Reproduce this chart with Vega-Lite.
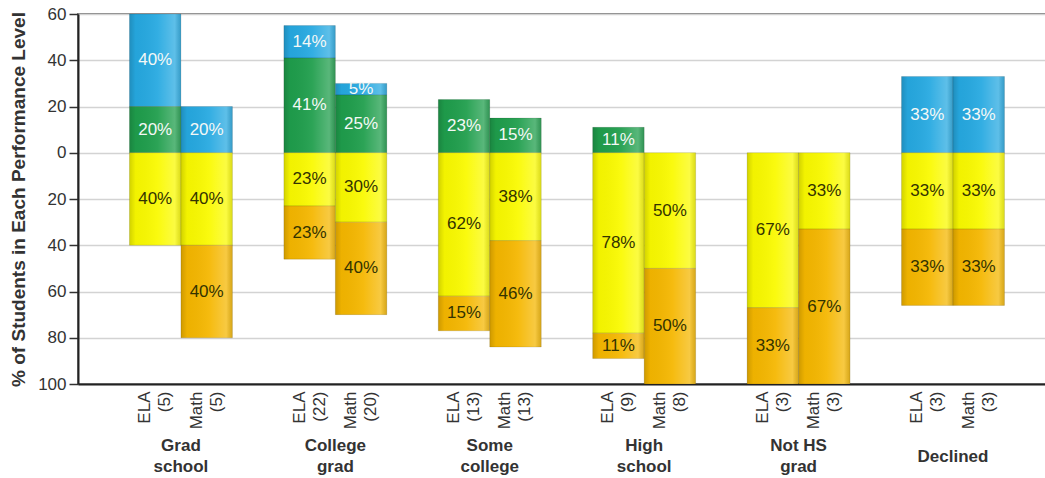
{
  "$schema": "https://vega.github.io/schema/vega-lite/v6.json",
  "autosize": {"type": "none"},
  "padding": {"left": 78, "top": 14, "right": 0, "bottom": 94},
  "width": 968,
  "height": 370,
  "config": {
    "font": "Liberation Sans",
    "view": {"stroke": "#808080", "strokeWidth": 2}
  },
  "data": {
    "values": [
      {"group": "Grad school", "subject": "ELA", "n": 5, "level": "Advanced", "pct": 40},
      {"group": "Grad school", "subject": "ELA", "n": 5, "level": "Proficient", "pct": 20},
      {"group": "Grad school", "subject": "ELA", "n": 5, "level": "Basic", "pct": 40},
      {"group": "Grad school", "subject": "Math", "n": 5, "level": "Advanced", "pct": 20},
      {"group": "Grad school", "subject": "Math", "n": 5, "level": "Basic", "pct": 40},
      {"group": "Grad school", "subject": "Math", "n": 5, "level": "Below Basic", "pct": 40},
      {"group": "College grad", "subject": "ELA", "n": 22, "level": "Advanced", "pct": 14},
      {"group": "College grad", "subject": "ELA", "n": 22, "level": "Proficient", "pct": 41},
      {"group": "College grad", "subject": "ELA", "n": 22, "level": "Basic", "pct": 23},
      {"group": "College grad", "subject": "ELA", "n": 22, "level": "Below Basic", "pct": 23},
      {"group": "College grad", "subject": "Math", "n": 20, "level": "Advanced", "pct": 5},
      {"group": "College grad", "subject": "Math", "n": 20, "level": "Proficient", "pct": 25},
      {"group": "College grad", "subject": "Math", "n": 20, "level": "Basic", "pct": 30},
      {"group": "College grad", "subject": "Math", "n": 20, "level": "Below Basic", "pct": 40},
      {"group": "Some college", "subject": "ELA", "n": 13, "level": "Proficient", "pct": 23},
      {"group": "Some college", "subject": "ELA", "n": 13, "level": "Basic", "pct": 62},
      {"group": "Some college", "subject": "ELA", "n": 13, "level": "Below Basic", "pct": 15},
      {"group": "Some college", "subject": "Math", "n": 13, "level": "Proficient", "pct": 15},
      {"group": "Some college", "subject": "Math", "n": 13, "level": "Basic", "pct": 38},
      {"group": "Some college", "subject": "Math", "n": 13, "level": "Below Basic", "pct": 46},
      {"group": "High school", "subject": "ELA", "n": 9, "level": "Proficient", "pct": 11},
      {"group": "High school", "subject": "ELA", "n": 9, "level": "Basic", "pct": 78},
      {"group": "High school", "subject": "ELA", "n": 9, "level": "Below Basic", "pct": 11},
      {"group": "High school", "subject": "Math", "n": 8, "level": "Basic", "pct": 50},
      {"group": "High school", "subject": "Math", "n": 8, "level": "Below Basic", "pct": 50},
      {"group": "Not HS grad", "subject": "ELA", "n": 3, "level": "Basic", "pct": 67},
      {"group": "Not HS grad", "subject": "ELA", "n": 3, "level": "Below Basic", "pct": 33},
      {"group": "Not HS grad", "subject": "Math", "n": 3, "level": "Basic", "pct": 33},
      {"group": "Not HS grad", "subject": "Math", "n": 3, "level": "Below Basic", "pct": 67},
      {"group": "Declined", "subject": "ELA", "n": 3, "level": "Advanced", "pct": 33},
      {"group": "Declined", "subject": "ELA", "n": 3, "level": "Basic", "pct": 33},
      {"group": "Declined", "subject": "ELA", "n": 3, "level": "Below Basic", "pct": 33},
      {"group": "Declined", "subject": "Math", "n": 3, "level": "Advanced", "pct": 33},
      {"group": "Declined", "subject": "Math", "n": 3, "level": "Basic", "pct": 33},
      {"group": "Declined", "subject": "Math", "n": 3, "level": "Below Basic", "pct": 33}
    ]
  },
  "layer": [
    {
      "transform": [
        {"calculate": "datum.level === 'Basic' || datum.level === 'Below Basic' ? -datum.pct : datum.pct", "as": "signed"},
        {"calculate": "indexof(['Proficient','Advanced','Basic','Below Basic'], datum.level)", "as": "order"},
        {"calculate": "datum.group + '|' + datum.subject + '|(' + datum.n + ')'", "as": "slot"},
        {"calculate": "datum.pct + '%'", "as": "label"},
        {"stack": "signed", "groupby": ["slot"], "sort": [{"field": "order", "order": "ascending"}], "as": ["y0", "y1"]},
        {"calculate": "(datum.y0 + datum.y1) / 2", "as": "mid"}
      ],
      "encoding": {
        "x": {
          "field": "slot",
          "type": "nominal",
          "title": null,
          "scale": {
            "type": "band",
            "domain": [
              "gap1", "Grad school|ELA|(5)", "Grad school|Math|(5)",
              "gap2", "College grad|ELA|(22)", "College grad|Math|(20)",
              "gap3", "Some college|ELA|(13)", "Some college|Math|(13)",
              "gap4", "High school|ELA|(9)", "High school|Math|(8)",
              "gap5", "Not HS grad|ELA|(3)", "Not HS grad|Math|(3)",
              "gap6", "Declined|ELA|(3)", "Declined|Math|(3)"
            ],
            "paddingInner": 0,
            "paddingOuter": 0.4035,
            "align": 0,
            "round": false
          },
          "axis": {
            "orient": "bottom",
            "labelExpr": "indexof(datum.value, '|') < 0 ? '' : [split(datum.value, '|')[1], split(datum.value, '|')[2]]",
            "labelAngle": -90,
            "labelAlign": "right",
            "labelBaseline": "middle",
            "labelFontSize": 17,
            "labelLineHeight": 20,
            "labelColor": "#333333",
            "labelPadding": 7,
            "labelOffset": -10,
            "labelOverlap": false,
            "labelBound": false,
            "ticks": false,
            "grid": false,
            "domainColor": "#222222",
            "domainWidth": 2
          }
        }
      },
      "layer": [
        {
          "mark": {"type": "bar", "stroke": "rgba(0,0,0,0.12)", "strokeWidth": 1},
          "encoding": {
            "y": {
              "field": "y0",
              "type": "quantitative",
              "title": "% of Students in Each Performance Level",
              "scale": {"domain": [-100, 60], "nice": false, "zero": false},
              "axis": {
                "values": [-100, -80, -60, -40, -20, 0, 20, 40, 60],
                "labelExpr": "abs(datum.value)",
                "labelFontSize": 17,
                "labelColor": "#333333",
                "labelPadding": 3,
                "tickSize": 9,
                "tickColor": "#333333",
                "tickWidth": 1.5,
                "domainColor": "#222222",
                "domainWidth": 2,
                "grid": true,
                "gridColor": "#d3d3d3",
                "gridWidth": 1.5,
                "titleFontSize": 19,
                "titleFontWeight": "bold",
                "titleColor": "#333333",
                "titlePadding": 9
              }
            },
            "y2": {"field": "y1"},
            "color": {
              "field": "level",
              "type": "nominal",
              "legend": null,
              "scale": {
                "domain": ["Advanced", "Proficient", "Basic", "Below Basic"],
                "range": ["#26a9e1", "#1f9e4c", "#fafa00", "#f5b700"]
              }
            }
          }
        },
        {
          "mark": {
            "type": "bar",
            "color": {
              "gradient": "linear",
              "x1": 0, "y1": 0, "x2": 1, "y2": 0,
              "stops": [
                {"offset": 0, "color": "rgba(0,0,0,0.16)"},
                {"offset": 0.12, "color": "rgba(0,0,0,0.03)"},
                {"offset": 0.55, "color": "rgba(255,255,255,0.06)"},
                {"offset": 0.88, "color": "rgba(255,255,255,0.26)"},
                {"offset": 1, "color": "rgba(110,110,110,0.22)"}
              ]
            }
          },
          "encoding": {
            "y": {"field": "y0", "type": "quantitative", "title": "% of Students in Each Performance Level"},
            "y2": {"field": "y1"}
          }
        },
        {
          "mark": {"type": "text", "fontSize": 17, "align": "center", "baseline": "middle"},
          "encoding": {
            "y": {"field": "mid", "type": "quantitative", "title": "% of Students in Each Performance Level"},
            "text": {"field": "label", "type": "nominal"},
            "color": {
              "condition": {"test": "datum.level === 'Advanced' || datum.level === 'Proficient'", "value": "#f4f8f6"},
              "value": "#333300"
            }
          }
        },
        {
          "mark": {"type": "rule", "color": "#000000", "strokeWidth": 3.5},
          "encoding": {
            "y": {"datum": 0, "type": "quantitative"}
          }
        }
      ]
    },
    {
      "data": {
        "values": [
          {"group": "Grad school"},
          {"group": "College grad"},
          {"group": "Some college"},
          {"group": "High school"},
          {"group": "Not HS grad"},
          {"group": "Declined"}
        ]
      },
      "mark": {"type": "text", "opacity": 0},
      "encoding": {
        "x": {
          "field": "group",
          "type": "nominal",
          "title": null,
          "scale": {
            "type": "band",
            "domain": ["Grad school", "College grad", "Some college", "High school", "Not HS grad", "Declined"],
            "paddingInner": 0,
            "paddingOuter": 0.1345,
            "align": 0.6195,
            "round": false
          },
          "axis": {
            "orient": "bottom",
            "labelExpr": "datum.value == 'Not HS grad' ? ['Not HS', 'grad'] : split(datum.value, ' ')",
            "labelAngle": 0,
            "labelAlign": "center",
            "labelBaseline": "middle",
            "labelFontSize": 17,
            "labelFontWeight": "bold",
            "labelLineHeight": 21,
            "labelColor": "#333333",
            "labelPadding": {"condition": {"test": "datum.value == 'Declined'", "value": 72}, "value": 61},
            "labelOverlap": false,
            "labelBound": false,
            "ticks": false,
            "domain": false,
            "grid": false
          }
        },
        "text": {"value": ""}
      }
    }
  ],
  "resolve": {"scale": {"x": "independent"}, "axis": {"x": "independent"}}
}
